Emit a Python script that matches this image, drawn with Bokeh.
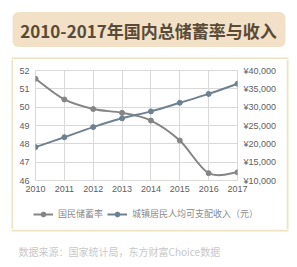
from bokeh.plotting import figure
from bokeh.layouts import column, row
from bokeh.models import (Range1d, LinearAxis, FixedTicker, CustomJSTickFormatter,
                          Label, BoxAnnotation, Legend, LegendItem)
from bokeh.embed import file_html
from bokeh.resources import INLINE

# ---- data ----
years = [2010, 2011, 2012, 2013, 2014, 2015, 2016, 2017]
savings_rate = [51.55, 50.42, 49.9, 49.69, 49.27, 48.18, 46.4, 46.45]
urban_income = [19109, 21810, 24565, 26955, 28844, 31195, 33616, 36396]
left_ticks = [46, 47, 48, 49, 50, 51, 52]
right_ticks = [10000, 15000, 20000, 25000, 30000, 35000, 40000]
legend_labels = ["国民储蓄率", "城镇居民人均可支配收入（元）"]
title_text = "2010-2017年国内总储蓄率与收入"
source_text = "数据来源：国家统计局，东方财富Choice数据"

W, H = 297, 267
CJK = "Noto Sans CJK SC"
C1 = "#858585"
C2 = "#6e8191"
BORDER = "#ece4c2"

PX0, PY0, PX1, PY1 = 13, 59, 286, 229     # panel inner box on page
FL, FR, FT, FB = 35, 237, 70, 180         # frame box on page


def blank(width, height):
    f = figure(width=width, height=height, output_backend="svg", toolbar_location=None, title=None,
               x_range=Range1d(0, width), y_range=Range1d(height, 0), frame_align=False,
               x_axis_location=None, y_axis_location=None, min_border=0)
    f.grid.visible = False
    f.outline_line_color = None
    f.background_fill_color = "white"
    f.border_fill_color = "white"
    return f


def bar(f, left, right, top, bottom, color):
    f.add_layout(BoxAnnotation(left=left, right=right, top=top, bottom=bottom,
                               fill_color=color, fill_alpha=1, line_color=None, level="underlay"))


# ---------- header (title box + top edge of the panel) ----------
head = blank(W, PY0)
bar(head, 11, W - 9, PY0 - 2, PY0, BORDER)
head.add_layout(BoxAnnotation(left=12, right=285, top=11.5, bottom=46.5,
                              fill_color="#f2e1c7", fill_alpha=1, line_color=None,
                              border_radius=6, level="underlay"))
head.add_layout(Label(x=148, y=29.5, text=title_text, text_font=CJK, text_font_style="bold",
                      text_font_size="17px", text_color="#5a4a38",
                      text_align="center", text_baseline="middle"))

# ---------- side edges of the panel ----------
lstrip = blank(PX0, PY1 - PY0)
bar(lstrip, PX0 - 2, PX0, 0, PY1 - PY0, BORDER)
rstrip = blank(W - PX1, PY1 - PY0)
bar(rstrip, 0, 2, 0, PY1 - PY0, BORDER)

# ---------- chart ----------
CH = 201 - PY0                            # chart canvas height (to below the year labels)
p = figure(width=PX1 - PX0, height=CH, output_backend="svg", toolbar_location=None, title=None,
           x_range=Range1d(years[0], years[-1]),
           y_range=Range1d(left_ticks[0], left_ticks[-1]), frame_align=False,
           min_border_left=FL - PX0, min_border_right=PX1 - FR,
           min_border_top=FT - PY0, min_border_bottom=PY0 + CH - FB)
p.extra_y_ranges = {"inc": Range1d(right_ticks[0], right_ticks[-1])}
p.background_fill_color = "white"
p.border_fill_color = "white"
p.outline_line_color = "#d9d9d9"

AX_FONT = "Liberation Sans"
AX_COLOR = "#606060"

p.xaxis.ticker = FixedTicker(ticks=years)
p.yaxis.ticker = FixedTicker(ticks=left_ticks)
raxis = LinearAxis(y_range_name="inc", ticker=FixedTicker(ticks=right_ticks),
                   formatter=CustomJSTickFormatter(code="return '\u00a5' + tick.toLocaleString('en-US');"))
p.add_layout(raxis, "right")
for ax in [p.xaxis[0], p.yaxis[0], raxis]:
    ax.axis_line_color = None
    ax.major_tick_line_color = None
    ax.minor_tick_line_color = None
    ax.major_tick_out = 0
    ax.minor_tick_out = 0
    ax.major_label_text_font = AX_FONT
    ax.major_label_text_font_size = "9px"
    ax.major_label_text_color = AX_COLOR
    ax.major_label_standoff = 6
p.xaxis[0].major_label_standoff = 5

p.xgrid.grid_line_color = "#d9d9d9"
p.ygrid.grid_line_color = "#d9d9d9"


def smooth(xs, ys, t=1 / 6):
    n = len(xs)
    d = dict(x0=[], y0=[], x1=[], y1=[], cx0=[], cy0=[], cx1=[], cy1=[])
    for i in range(n - 1):
        a = max(i - 1, 0)
        b = min(i + 2, n - 1)
        d["x0"].append(xs[i]); d["y0"].append(ys[i])
        d["x1"].append(xs[i + 1]); d["y1"].append(ys[i + 1])
        d["cx0"].append(xs[i] + (xs[i + 1] - xs[a]) * t)
        d["cy0"].append(ys[i] + (ys[i + 1] - ys[a]) * t)
        d["cx1"].append(xs[i + 1] - (xs[b] - xs[i]) * t)
        d["cy1"].append(ys[i + 1] - (ys[b] - ys[i]) * t)
    return d


p.bezier(line_color=C1, line_width=2, source=smooth(years, savings_rate))
p.scatter(years, savings_rate, size=5, color=C1)
p.bezier(line_color=C2, line_width=2, y_range_name="inc", source=smooth(years, urban_income))
p.scatter(years, urban_income, size=5, color=C2, y_range_name="inc")

# ---------- legend strip (inside the panel) ----------
LH = PY1 - (PY0 + CH)
leg = blank(PX1 - PX0, LH)
# hidden proxies carrying the series styles, used only for the legend swatches
l1 = leg.line(years, savings_rate, line_color=C1, line_width=2, visible=False)
m1 = leg.scatter(years, savings_rate, size=5, color=C1, visible=False)
l2 = leg.line(years, urban_income, line_color=C2, line_width=2, visible=False)
m2 = leg.scatter(years, urban_income, size=5, color=C2, visible=False)
legend = Legend(items=[LegendItem(label=legend_labels[0], renderers=[l1, m1]),
                       LegendItem(label=legend_labels[1], renderers=[l2, m2])],
                location=(33 - PX0, PY1 - 220), orientation="horizontal",
                glyph_width=20, glyph_height=12, label_height=12, label_width=0,
                label_standoff=5, spacing=4, padding=0, margin=0,
                border_line_color=None, background_fill_alpha=0,
                label_text_font=CJK, label_text_font_size="9px",
                label_text_color="#8a8a8a")
leg.add_layout(legend)

middle = row(lstrip, column(p, leg, spacing=0), rstrip, spacing=0)

# ---------- footer (bottom edge of the panel + source) ----------
FH = H - PY1
foot = blank(W, FH)
bar(foot, 11, W - 9, 0, 2, BORDER)
foot.add_layout(Label(x=18, y=251 - PY1, text=source_text, text_font=CJK, text_font_size="10px",
                      text_color="#c8c8c8", text_align="left", text_baseline="middle"))

layout = column(head, middle, foot, spacing=0)
open("out.html", "w").write(file_html(layout, INLINE))
